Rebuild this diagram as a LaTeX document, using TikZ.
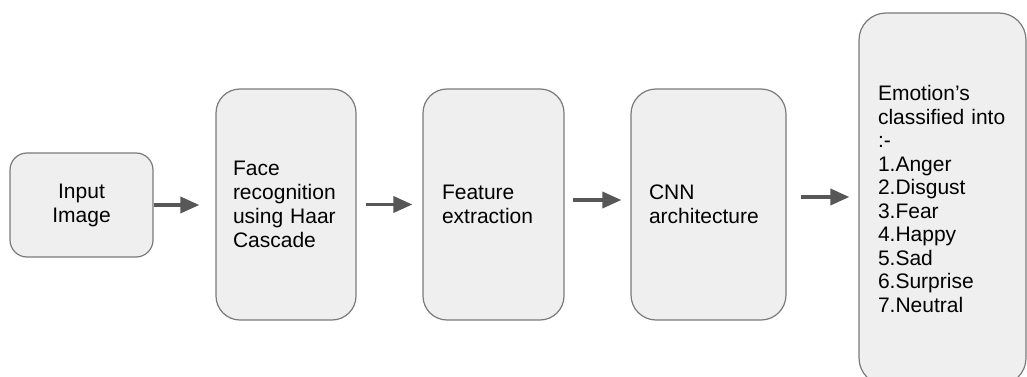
\documentclass[tikz,border=0pt]{standalone}
\usepackage{fontspec}
\setmainfont{Liberation Sans}
\usetikzlibrary{arrows.meta}
\definecolor{boxfill}{HTML}{EFEFEF}
\definecolor{boxline}{HTML}{7A7A7A}
\definecolor{arrowgray}{HTML}{575757}
\begin{document}
\begin{tikzpicture}[x=1pt,y=-1pt,font=\fontsize{21}{24}\selectfont,
    blk/.style={draw=boxline,fill=boxfill,line width=1.2pt},
    arr/.style={draw=arrowgray,line width=3.5pt,-{Triangle[length=19pt,width=16pt]}}]
      \clip (0,0) rectangle (1027,377);
      \node[blk,rounded corners=17pt,minimum width=143pt,minimum height=104pt,align=center] (inp) at (81.5,205) {Input\\Image};
      \node[blk,rounded corners=24pt,minimum height=231pt,inner xsep=17pt,text width=106pt,align=left] (face) at (286,204.5) {Face\\recognition\\using Haar\\Cascade};
      \node[blk,rounded corners=24pt,minimum height=231pt,inner xsep=19pt,text width=103pt,align=left] (feat) at (493.5,204.5) {Feature\\extraction};
      \node[blk,rounded corners=25pt,minimum height=231pt,inner xsep=18pt,text width=119pt,align=left] (cnn) at (708.5,204.5) {CNN\\architecture};
      \node[blk,rounded corners=27pt,minimum height=372pt,inner xsep=19pt,text width=129pt,align=left,font=\fontsize{21}{23.5}\selectfont] (emo) at (942.5,199) {Emotion’s\\classified into\\:-\\1.Anger\\2.Disgust\\3.Fear\\4.Happy\\5.Sad\\6.Surprise\\7.Neutral};
      \foreach \a/\b/\s/\e/\dy in {inp/face/0/16/0, face/feat/9/10/0, feat/cnn/8/9/4.5, cnn/emo/14/9/7.5} {
        \coordinate (from) at ([yshift=\dy pt]\a.east);
        \draw[arr,shorten <=\s pt,shorten >=\e pt] (from) -- (from -| \b.west);
      }
    \end{tikzpicture}
\end{document}
